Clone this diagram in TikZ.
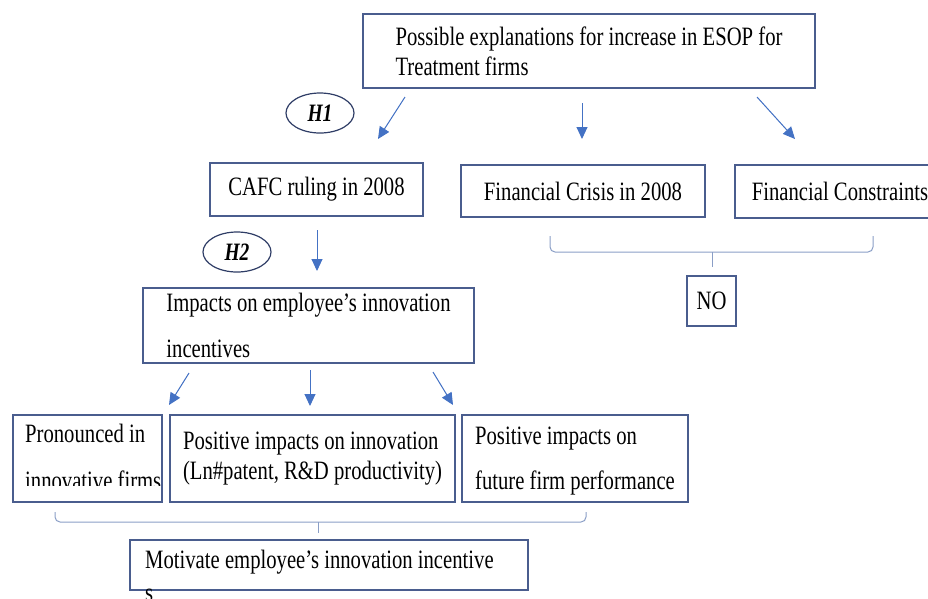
\documentclass[tikz,border=0pt]{standalone}
\usepackage{fontspec}
\setmainfont[FakeStretch=0.78]{Liberation Serif}
\usetikzlibrary{shapes.geometric, arrows.meta}
\definecolor{boxline}{HTML}{4A5D8E}
\definecolor{arrowblue}{HTML}{4472C4}
\definecolor{bracegray}{HTML}{8A9EC6}
\definecolor{ovalline}{HTML}{2F3D66}
\begin{document}
\begin{tikzpicture}[x=1pt, y=-1pt,
            box/.style={rectangle, draw=boxline, line width=1.3pt, inner sep=0pt, outer sep=0pt, align=left, font=\fontsize{26.5}{30}\selectfont},
            boxtext/.style={inner sep=0pt, align=left, anchor=north west, font=\fontsize{26.5}{30}\selectfont},
            oval/.style={ellipse, draw=ovalline, line width=1.2pt, minimum width=68pt, minimum height=40pt, inner sep=0pt, font=\fontsize{25}{28}\selectfont\bfseries\itshape},
            arrow/.style={-{Triangle[length=12pt, width=11pt]}, draw=arrowblue, fill=arrowblue, line width=1pt},
            brace/.style={draw=bracegray, line width=1pt, rounded corners=5pt}
        ]
            \path[use as bounding box, clip] (0,0) rectangle (928,598);

            % Question
            \node[box, minimum width=452pt, minimum height=74pt] (expl) at (589,51) {Possible explanations for increase in ESOP for\\Treatment firms};
            \node[oval] (h1) at (320,113) {H1};

            % Candidate explanations
            \node[box, minimum width=213pt, minimum height=53pt] (cafc) at (316.5,189.5) {CAFC ruling in 2008};
            \node[box, minimum width=244pt, minimum height=52pt] (crisis) at (583,191) {Financial Crisis in 2008};
            \node[box, minimum width=210pt, minimum height=53pt, anchor=west] (constr) at (735,191.5) {Financial Constraints};
            \node[box, minimum width=49pt, minimum height=50pt] (no) at (711.5,301) {NO};

            % Channel
            \node[oval] (h2) at (237,252) {H2};
            \node[box, minimum width=331pt, minimum height=75pt] (impact) at (308.5,325.5) {Impacts on employee's innovation\\[16pt]incentives};

            % Results
            \node[box, minimum width=149pt, minimum height=87pt] (pron) at (87.5,458.5) {};
            \begin{scope}
                \clip (pron.north west) rectangle (160,485);
                \node[boxtext] (pronlbl) at (25,424) {Pronounced in\\[17pt]innovative firms};
            \end{scope}
            \node[box, minimum width=285pt, minimum height=87pt] (innov) at (312.5,458.5) {Positive impacts on innovation\\(Ln\#patent, R\&D productivity)};
            \node[box, minimum width=226pt, minimum height=87pt, text depth=0pt] (future) at (575,458.5) {Positive impacts on\\[15pt]future firm performance};
            \node[box, minimum width=398pt, minimum height=50pt] (motiv) at (329,565) {};
            \node[boxtext] (motivlbl) at (145,550) {Motivate employee's innovation incentive\\[3pt]s};

            % Arrow ends
            \coordinate (a1s) at (405,97);  \coordinate (a1e) at (378,139);
            \coordinate (a2s) at (582,103); \coordinate (a2e) at (582,139);
            \coordinate (a3s) at (757,97);  \coordinate (a3e) at (795,139);
            \coordinate (a4s) at (317,230); \coordinate (a4e) at (317,271);
            \coordinate (a5s) at (189,373); \coordinate (a5e) at (169,405);
            \coordinate (a6s) at (310,370); \coordinate (a6e) at (310,406);
            \coordinate (a7s) at (433,372); \coordinate (a7e) at (453,405);

            % Connections
            \draw[arrow] (a1s) -- (a1e);
            \draw[arrow] (a2s) -- (a2e);
            \draw[arrow] (a3s) -- (a3e);
            \draw[arrow] (a4s) -- (a4e);
            \draw[arrow] (a5s) -- (a5e);
            \draw[arrow] (a6s) -- (a6e);
            \draw[arrow] (a7s) -- (a7e);

            % Braces
            \coordinate (b1tip) at (712,267);
            \draw[brace] (550,236) |- (712,252) -| (873,236);
            \draw[brace] (712,252) -- (b1tip);
            \coordinate (b2tip) at (318,533);
            \draw[brace] (55,512) |- (318,522) -| (586,512);
            \draw[brace] (318,522) -- (b2tip);
        \end{tikzpicture}
\end{document}
